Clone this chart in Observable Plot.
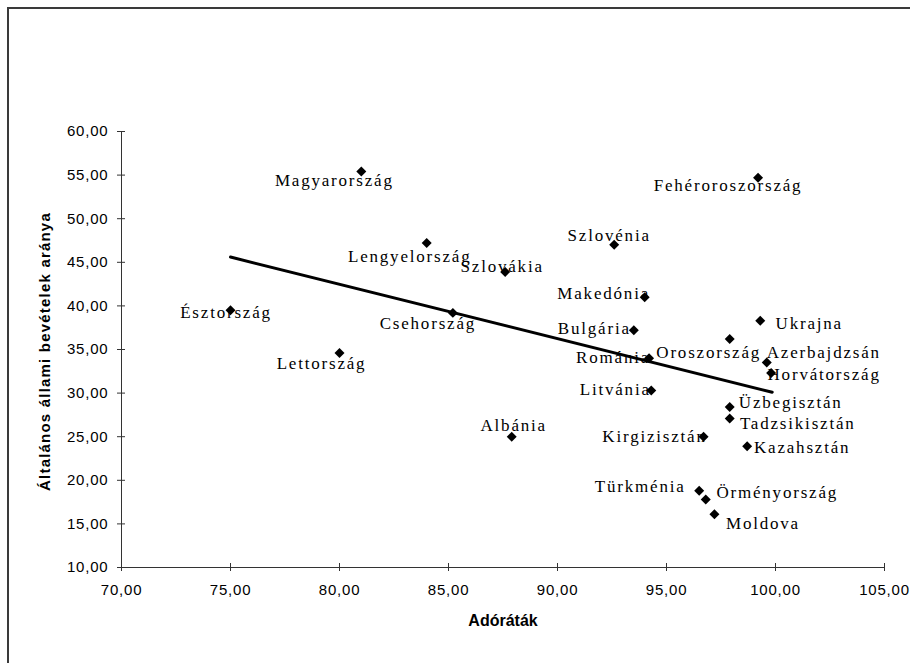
<!DOCTYPE html>
<html><head><meta charset="utf-8">
<script src="https://cdn.jsdelivr.net/npm/d3@7"></script>
<script src="https://cdn.jsdelivr.net/npm/@observablehq/plot@0.6"></script>
<style>
body{margin:0;background:#fff;}
#wrap{position:relative;width:910px;height:663px;overflow:hidden;background:#fff;}
#border{position:absolute;left:7px;top:7px;width:940px;height:700px;border-left:2px solid #3a3a3a;border-top:2px solid #3a3a3a;pointer-events:none;}
#chart g[aria-label="x-axis tick label"] text,#chart g[aria-label="y-axis tick label"] text{letter-spacing:0.8px;}
#chart g.country text{letter-spacing:1.8px;}
#chart g.ytitle text{letter-spacing:1.2px;}
</style></head><body>
<div id="wrap"><div id="chart"></div><div id="border"></div></div>
<script>
const countries = ["Észtország","Magyarország","Lengyelország","Szlovákia","Csehország","Lettország","Albánia","Szlovénia","Fehéroroszország","Makedónia","Bulgária","Ukrajna","Oroszország","Románia","Azerbajdzsán","Horvátország","Litvánia","Üzbegisztán","Tadzsikisztán","Kirgizisztán","Kazahsztán","Türkménia","Örményország","Moldova"];
const taxRate = [75.0, 81.0, 84.0, 87.6, 85.2, 80.0, 87.9, 92.6, 99.2, 94.0, 93.5, 99.3, 97.9, 94.2, 99.6, 99.8, 94.3, 97.9, 97.9, 96.7, 98.7, 96.5, 96.8, 97.2];
const govRevenue = [39.5, 55.4, 47.2, 43.9, 39.2, 34.6, 25.0, 47.0, 54.7, 41.0, 37.2, 38.3, 36.2, 34.0, 33.5, 32.3, 30.3, 28.4, 27.1, 25.0, 23.9, 18.8, 17.8, 16.1];
const xTicks = [70, 75, 80, 85, 90, 95, 100, 105];
const yTicks = [10, 15, 20, 25, 30, 35, 40, 45, 50, 55, 60];
const trendX = [75.0, 99.85];
const trendY = [45.6, 30.1];
const xTitle = "Adóráták";
const yTitle = "Általános állami bevételek aránya";

// label placement (pixel offsets from each marker), as in the original
const labelOffsets = [[-4.5,2],[-27,9],[-17,13],[-3,-5],[-25,11],[-18,11],[2,-11],[-5,-9],[-30,8],[-41,-4],[-39.5,-2],[49,3],[-21,13.5],[-36,-1],[57,-10],[53,2],[-36,-1],[61,-5],[68,5],[-49,0],[55,1],[-59,-4],[71.5,-7],[48.5,9]];

const idx = countries.map((_, i) => i);
const fmt = d => d.toFixed(2).replace(".", ",");
const trend = trendX.map((x, i) => ({x, y: trendY[i]}));

const labelMarks = idx.map(i => Plot.text([i], {
  x: j => taxRate[j], y: j => govRevenue[j], text: j => countries[j],
  dx: labelOffsets[i][0], dy: labelOffsets[i][1],
  fontSize: 17, fontFamily: "Liberation Serif", fill: "#000", className: "country"
}));

const chart = Plot.plot({
  width: 910, height: 663,
  marginLeft: 121, marginRight: 26, marginTop: 131, marginBottom: 96,
  x: {domain: [70, 105]},
  y: {domain: [10, 60]},
  style: {fontFamily: "Liberation Sans, Arial, sans-serif", background: "transparent", color: "#000"},
  marks: [
    Plot.ruleX([70], {stroke: "#333", strokeWidth: 1}),
    Plot.ruleY([10], {stroke: "#333", strokeWidth: 1}),
    Plot.ruleY(yTicks, {y: d => d, x1: 70, x2: 70, insetLeft: -4, insetRight: -4, stroke: "#333"}),
    Plot.ruleX(xTicks, {x: d => d, y1: 10, y2: 10, insetTop: -4, insetBottom: -4, stroke: "#333"}),
    Plot.axisY(yTicks, {tickSize: 0, tickPadding: 13, tickFormat: fmt, fontSize: 15, label: null}),
    Plot.axisX(xTicks, {tickSize: 0, tickPadding: 17, tickFormat: fmt, fontSize: 15, label: null}),
    Plot.line(trend, {x: "x", y: "y", stroke: "#000", strokeWidth: 3}),
    Plot.dot(idx, {x: i => taxRate[i], y: i => govRevenue[i], symbol: "diamond2", r: 4.5, fill: "#000", stroke: null}),
    ...labelMarks,
    Plot.text([xTitle], {frameAnchor: "bottom", dy: 58, text: d => d, fontSize: 16, fontWeight: "bold", fill: "#000"}),
    Plot.text([yTitle], {frameAnchor: "left", textAnchor: "middle", dx: -76, dy: 2, rotate: -90, text: d => d, fontSize: 15, fontWeight: "bold", fill: "#000", className: "ytitle"})
  ]
});
document.getElementById("chart").append(chart);
</script>
</body></html>
